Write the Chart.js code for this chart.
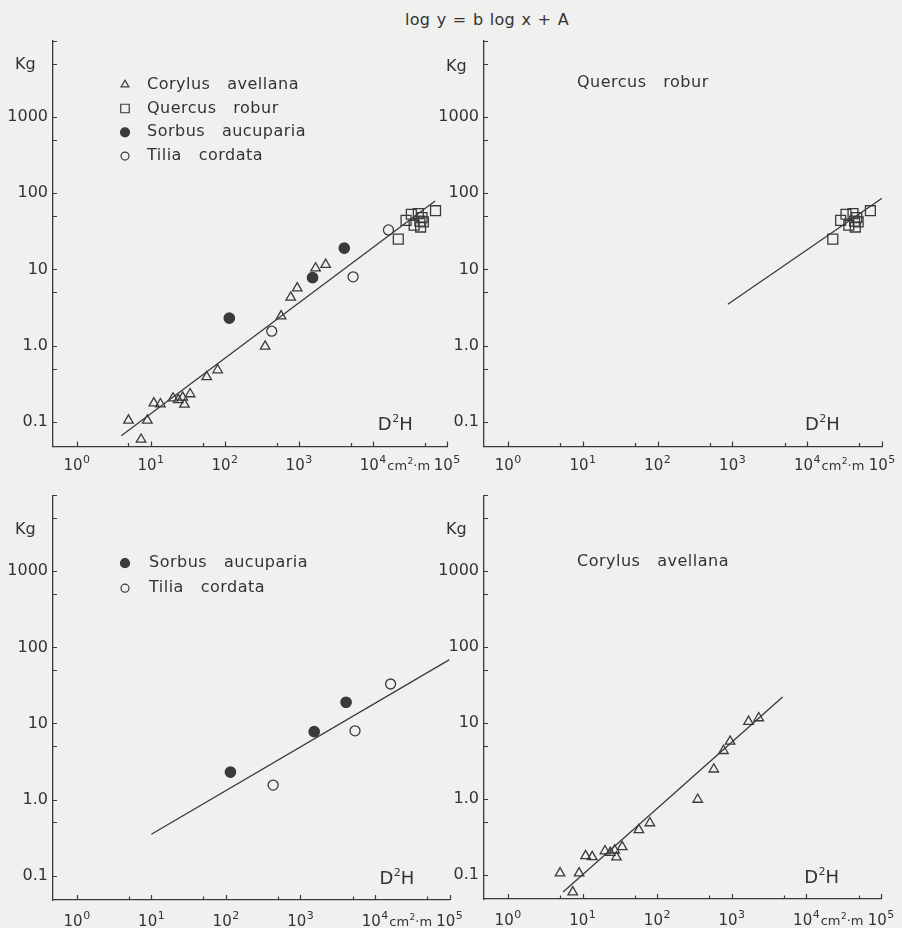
<!DOCTYPE html>
<html>
<head>
<meta charset="utf-8">
<script src="https://cdn.jsdelivr.net/npm/chart.js@4.4.0/dist/chart.umd.min.js"></script>
<style>
  html, body { margin: 0; padding: 0; background: #f0f0ee; }
  #page { position: relative; width: 902px; height: 928px; overflow: hidden; }
  #page canvas { position: absolute; left: 0; top: 0; }
  #title { position: absolute; left: 405px; top: 10px; font: 16px 'DejaVu Sans'; line-height: 20px;
           color: #333; white-space: pre; letter-spacing: 0.3px; word-spacing: 1px; }
</style>
</head>
<body>
<div id="page">
  <div id="title">log y = b log x + A</div>
  <canvas id="p1" width="902" height="928"></canvas>
  <canvas id="p2" width="902" height="928"></canvas>
  <canvas id="p3" width="902" height="928"></canvas>
  <canvas id="p4" width="902" height="928"></canvas>
</div>
<script>
// D²H (cm²·m) against dry weight (Kg)
const corylusX = [5, 7.4, 9, 11, 13.5, 20, 23.5, 27, 28.5, 34, 57, 80, 350, 575, 775, 950, 1680, 2300];
const corylusY = [0.105, 0.059, 0.105, 0.177, 0.172, 0.205, 0.195, 0.21, 0.17, 0.233, 0.39, 0.48, 0.98, 2.45, 4.3, 5.7, 10.4, 11.6];

const quercusX = [22000, 28000, 33000, 36000, 41000, 43000, 44000, 46000, 48000, 70000];
const quercusY = [25, 44, 53, 38, 54, 43, 36, 48, 42, 59];

const sorbusX = [115, 1530, 4100];
const sorbusY = [2.3, 7.8, 19];

const tiliaX = [430, 5400, 16200];
const tiliaY = [1.55, 8, 33];

// fitted lines (end points)
const allLineX = [4, 69000];
const allLineY = [0.066, 79];
const quercusLineX = [870, 100000];
const quercusLineY = [3.5, 86];
const sorbusTiliaLineX = [10, 100000];
const sorbusTiliaLineY = [0.35, 69];
const corylusLineX = [5.5, 4800];
const corylusLineY = [0.059, 22];

// axes
const xTicks = [1, 5, 10, 50, 100, 500, 1000, 5000, 10000, 50000, 100000];
const xTickExp = ['0', '', '1', '', '2', '', '3', '', '4', '', '5'];
const yTicks = [0.1, 0.5, 1, 5, 10, 50, 100, 500, 1000, 5000, 10000];
const yTickLabels = ['0.1', '', '1.0', '', '10', '', '100', '', '1000', '', ''];

const FONT = "'DejaVu Sans'";
const INK = '#3a3a3a';
const TEXT = '#333333';
const X_MIN = Math.pow(10, -0.32);
const Y_MIN = Math.pow(10, -1.32);

const isDecade = v => Math.abs(Math.log10(v) - Math.round(Math.log10(v))) < 1e-6;

const pts = (xs, ys) => xs.map((x, i) => ({ x: x, y: ys[i] }));

const marker = (xs, ys, style, filled, r) => ({
  data: pts(xs, ys),
  showLine: false,
  pointStyle: style,
  pointRadius: r,
  pointBorderWidth: 1.3,
  borderColor: INK,
  backgroundColor: filled ? INK : 'rgba(0,0,0,0)'
});

const fitLine = (xs, ys) => ({
  data: pts(xs, ys),
  showLine: true,
  borderColor: INK,
  borderWidth: 1.3,
  pointRadius: 0,
  fill: false
});

// "base" followed by a raised smaller exponent, starting at x; returns end x
function drawSup(ctx, x, baseline, base, exp, size, supSize, rise) {
  ctx.font = size + 'px ' + FONT;
  ctx.fillText(base, x, baseline);
  x += ctx.measureText(base).width + 0.5;
  ctx.font = supSize + 'px ' + FONT;
  ctx.fillText(exp, x, baseline - rise);
  return x + ctx.measureText(exp).width;
}

function supWidth(ctx, base, exp, size, supSize) {
  ctx.font = size + 'px ' + FONT;
  const w = ctx.measureText(base).width + 0.5;
  ctx.font = supSize + 'px ' + FONT;
  return w + ctx.measureText(exp).width;
}

const decorPlugin = {
  id: 'decor',
  afterDraw(chart, args, o) {
    const { ctx, chartArea: a } = chart;
    const x = chart.scales.x, y = chart.scales.y;
    ctx.save();
    // tick marks point inwards
    ctx.strokeStyle = INK;
    ctx.lineWidth = 1.2;
    ctx.beginPath();
    x.ticks.forEach(t => {
      const px = Math.round(x.getPixelForValue(t.value)) + 0.5;
      const len = isDecade(t.value) ? 5 : 3.5;
      ctx.moveTo(px, a.bottom);
      ctx.lineTo(px, a.bottom - len);
    });
    y.ticks.forEach(t => {
      const py = Math.round(y.getPixelForValue(t.value)) + 0.5;
      ctx.moveTo(a.left, py);
      ctx.lineTo(a.left + 4, py);
    });
    ctx.stroke();

    ctx.fillStyle = TEXT;
    ctx.textAlign = 'left';
    ctx.textBaseline = 'alphabetic';

    // x labels: 10 with raised exponent, unit after 10⁴
    const base = a.bottom + o.labelBase;
    x.ticks.forEach(t => {
      const i = xTicks.indexOf(t.value);
      if (i < 0 || !xTickExp[i]) return;
      const px = x.getPixelForValue(t.value);
      const w = supWidth(ctx, '10', xTickExp[i], 15, 11);
      let end = drawSup(ctx, px - w / 2, base, '10', xTickExp[i], 15, 11, 7);
      if (t.value === 10000) {
        end = drawSup(ctx, end + 1, base, 'cm', '2', 13, 9, 6);
        ctx.font = '13px ' + FONT;
        ctx.fillText('·m', end, base);
      }
    });

    ctx.font = '16px ' + FONT;
    ctx.textBaseline = 'middle';
    ctx.fillText('Kg', a.left - 38, a.top + o.kgDy);

    // D²H inside the plot, bottom right
    ctx.textBaseline = 'alphabetic';
    ctx.font = '18px ' + FONT;
    const hw = ctx.measureText('H').width;
    const dw = supWidth(ctx, 'D', '2', 18, 11) + hw;
    let dx = x.getPixelForValue(o.dhX) - dw / 2;
    dx = drawSup(ctx, dx, a.bottom - 16, 'D', '2', 18, 11, 8);
    ctx.font = '18px ' + FONT;
    ctx.fillText('H', dx, a.bottom - 16);

    ctx.textBaseline = 'middle';
    ctx.font = '16px ' + FONT;
    ctx.letterSpacing = '0.5px';
    o.legend.forEach((item, i) => {
      const ly = a.top + o.legendDy + i * o.legendGap;
      if (item.style) {
        ctx.strokeStyle = INK;
        ctx.fillStyle = item.filled ? INK : 'rgba(0,0,0,0)';
        Chart.helpers.drawPoint(ctx, { pointStyle: item.style, radius: item.r, borderWidth: 1.2, rotation: 0 },
          a.left + 72, ly);
      }
      ctx.fillStyle = TEXT;
      ctx.fillText(item.text, a.left + o.textDx, ly);
    });
    ctx.restore();
  }
};

function makePanel(id, box, datasets, decor) {
  return new Chart(document.getElementById(id), {
    type: 'scatter',
    data: { datasets: datasets },
    options: {
      responsive: false,
      animation: false,
      events: [],
      layout: {
        padding: { left: box.left - 50, top: box.top, right: 902 - box.right, bottom: 928 - box.bottom - 26 }
      },
      plugins: { legend: { display: false }, tooltip: { enabled: false }, decor: decor },
      scales: {
        x: {
          type: 'logarithmic',
          min: X_MIN,
          max: 100000,
          afterBuildTicks: s => { s.ticks = xTicks.map(v => ({ value: v })); },
          afterFit: s => { s.height = 26; },
          grid: { display: false, drawTicks: false },
          border: { color: INK, width: 1.3 },
          ticks: { display: false, autoSkip: false, maxRotation: 0, minRotation: 0 }
        },
        y: {
          type: 'logarithmic',
          min: Y_MIN,
          max: 10000,
          afterBuildTicks: s => { s.ticks = yTicks.map(v => ({ value: v })); },
          afterFit: s => { s.width = 50; },
          grid: { display: false, drawTicks: false },
          border: { color: INK, width: 1.3 },
          ticks: {
            autoSkip: false, padding: 5,
            color: TEXT, font: { family: FONT, size: 16 },
            callback: v => { const i = yTicks.indexOf(v); return i < 0 ? '' : yTickLabels[i]; }
          }
        }
      }
    },
    plugins: [decorPlugin]
  });
}

// all four species
makePanel('p1', { left: 53, top: 40.7, right: 447, bottom: 446.4 }, [
  fitLine(allLineX, allLineY),
  marker(corylusX, corylusY, 'triangle', false, 5.5),
  marker(quercusX, quercusY, 'rect', false, 7),
  marker(sorbusX, sorbusY, 'circle', true, 5.2),
  marker(tiliaX, tiliaY, 'circle', false, 5)
], {
  kgDy: 24, labelBase: 24, dhX: 20000, textDx: 94, legendDy: 44, legendGap: 23.8,
  legend: [
    { style: 'triangle', r: 4.5, filled: false, text: 'Corylus   avellana' },
    { style: 'rect', r: 6, filled: false, text: 'Quercus   robur' },
    { style: 'circle', r: 4.5, filled: true, text: 'Sorbus   aucuparia' },
    { style: 'circle', r: 4, filled: false, text: 'Tilia   cordata' }
  ]
});

// Quercus robur
makePanel('p2', { left: 484, top: 40.7, right: 882, bottom: 446.4 }, [
  fitLine(quercusLineX, quercusLineY),
  marker(quercusX, quercusY, 'rect', false, 7)
], {
  kgDy: 26, labelBase: 24, dhX: 16000, textDx: 93, legendDy: 42, legendGap: 24,
  legend: [{ text: 'Quercus   robur' }]
});

// Sorbus aucuparia + Tilia cordata
makePanel('p3', { left: 53, top: 495.2, right: 449.5, bottom: 900 }, [
  fitLine(sorbusTiliaLineX, sorbusTiliaLineY),
  marker(sorbusX, sorbusY, 'circle', true, 5.2),
  marker(tiliaX, tiliaY, 'circle', false, 5)
], {
  kgDy: 35, labelBase: 25.5, dhX: 19700, textDx: 96, legendDy: 68, legendGap: 25,
  legend: [
    { style: 'circle', r: 4.5, filled: true, text: 'Sorbus   aucuparia' },
    { style: 'circle', r: 4, filled: false, text: 'Tilia   cordata' }
  ]
});

// Corylus avellana
makePanel('p4', { left: 484, top: 495.2, right: 881, bottom: 899 }, [
  fitLine(corylusLineX, corylusLineY),
  marker(corylusX, corylusY, 'triangle', false, 5.5)
], {
  kgDy: 35, labelBase: 25.5, dhX: 16000, textDx: 93, legendDy: 67, legendGap: 24,
  legend: [{ text: 'Corylus   avellana' }]
});
</script>
</body>
</html>
